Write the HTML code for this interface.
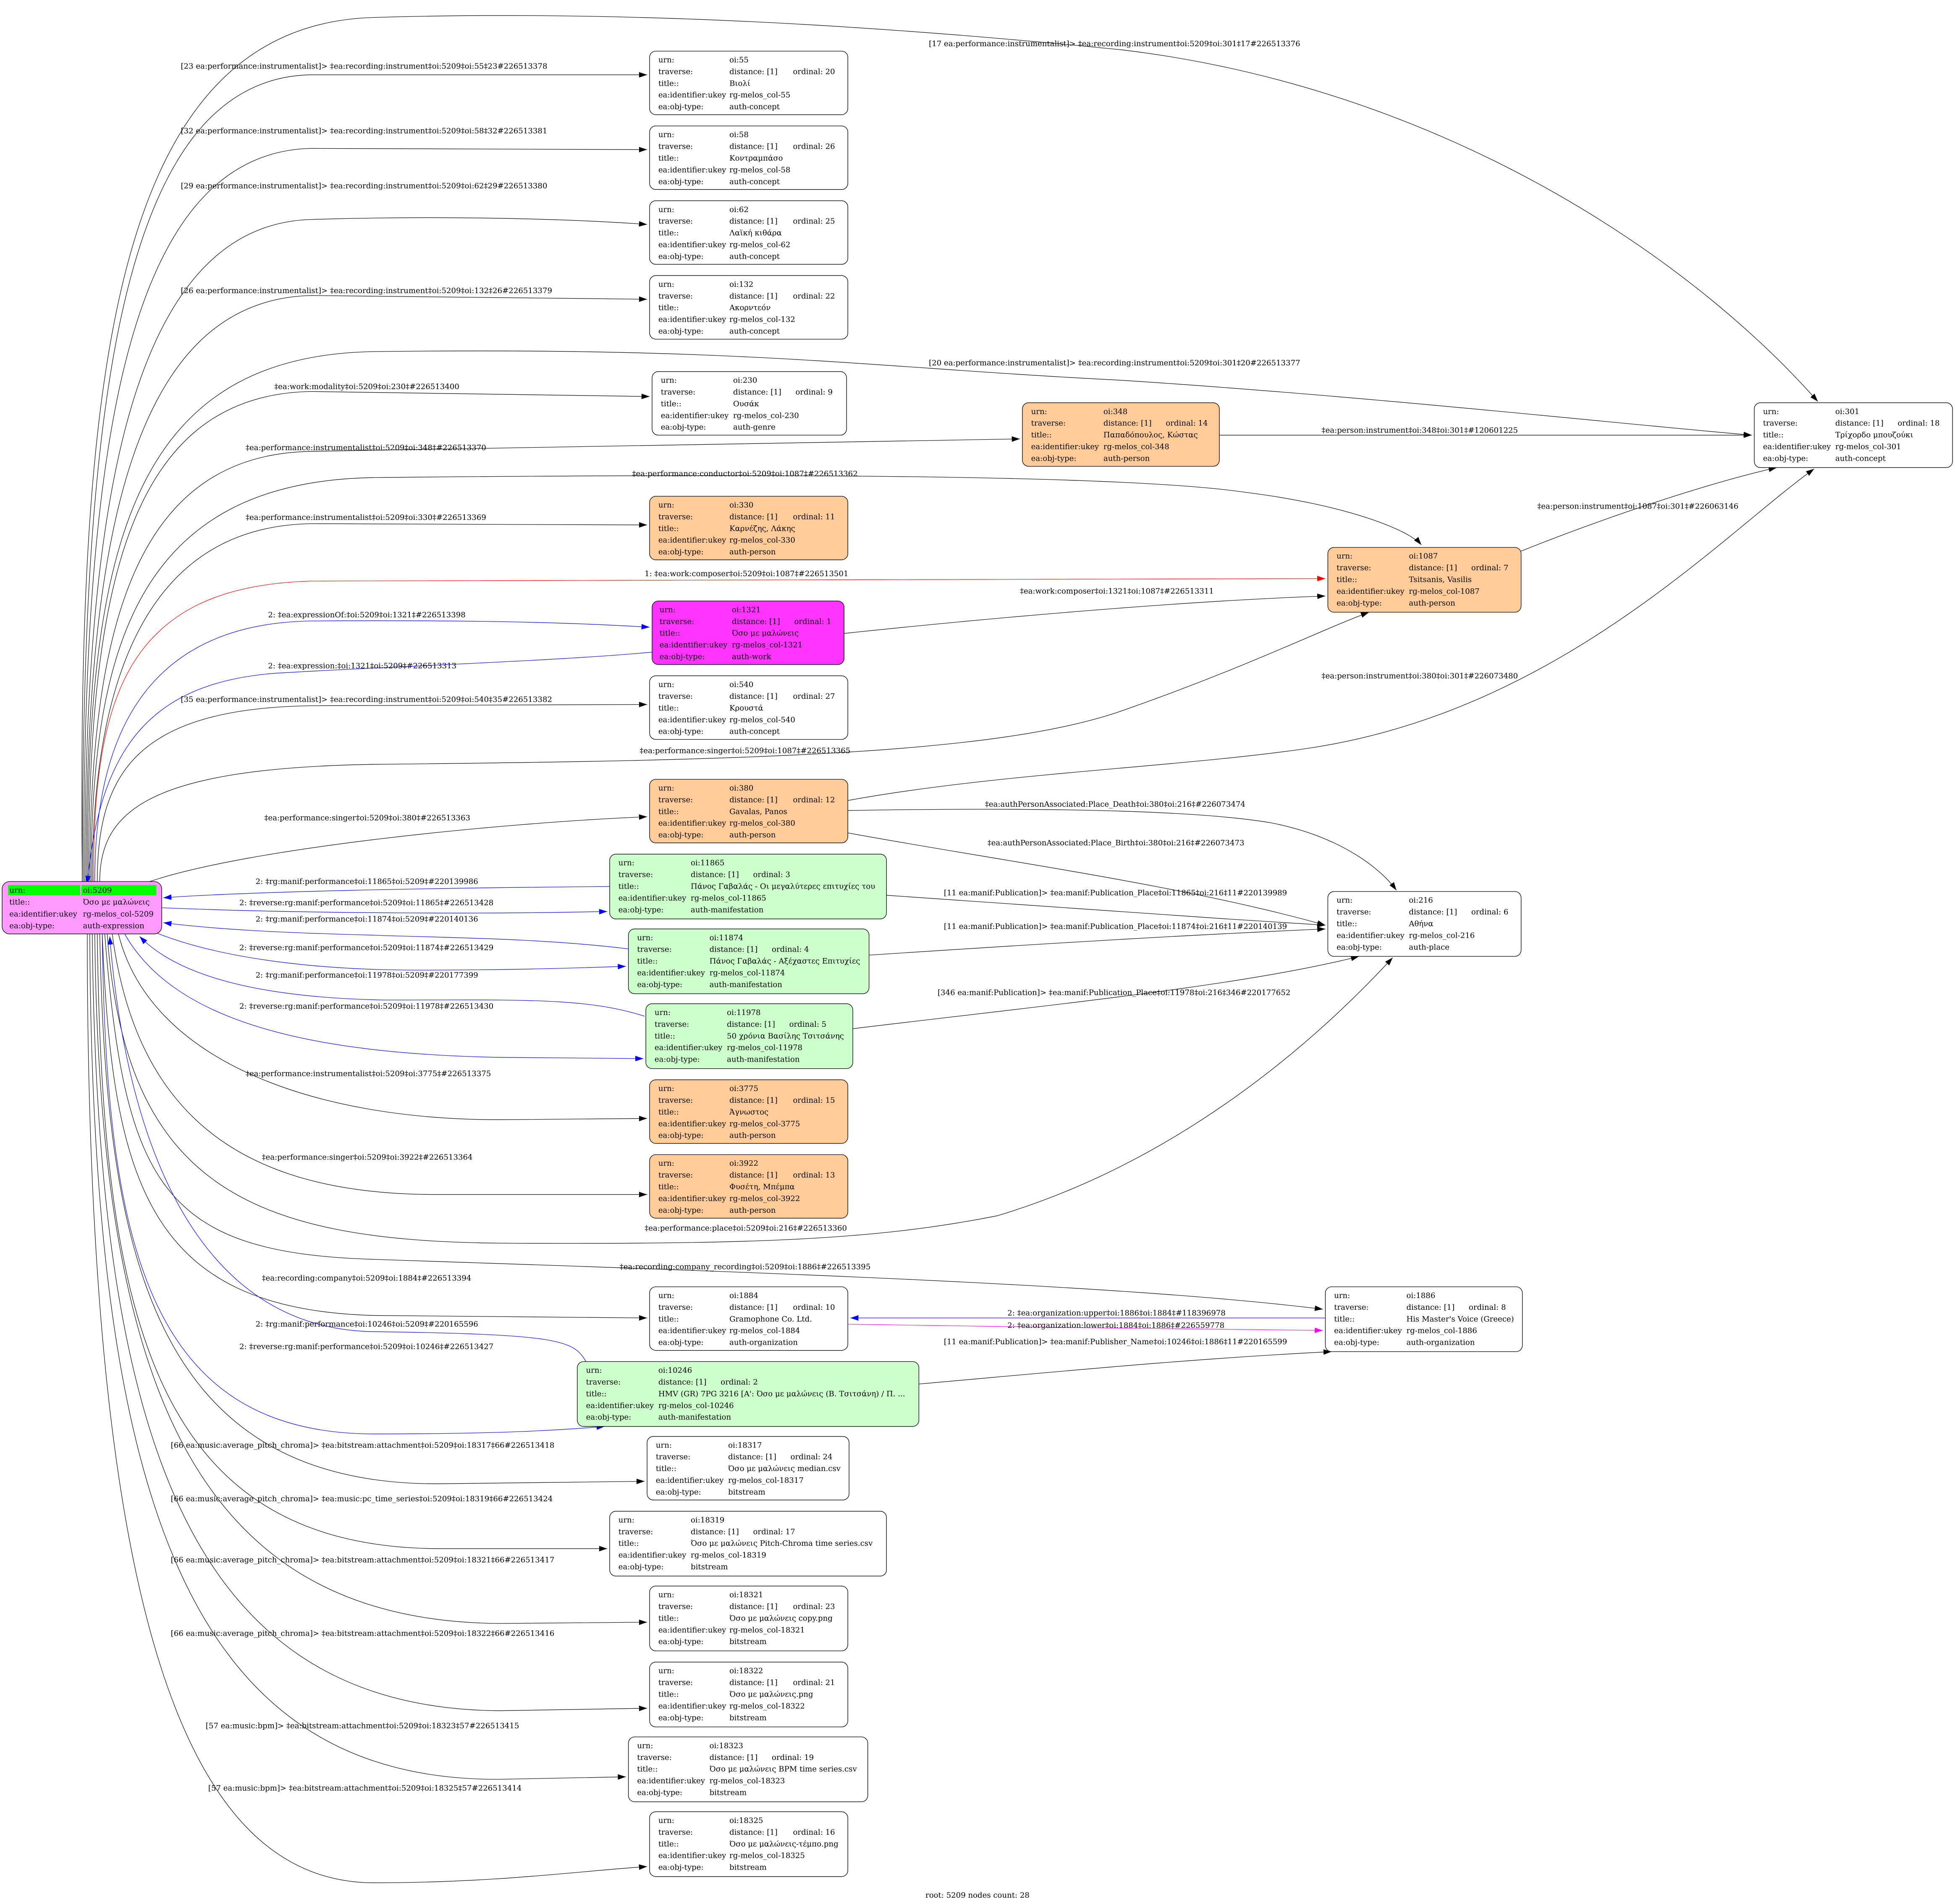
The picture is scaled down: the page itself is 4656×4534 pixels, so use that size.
<!DOCTYPE html>
<html><head><meta charset="utf-8"><style>
html,body{margin:0;padding:0;background:#fff}
svg{display:block}
text{font-family:"DejaVu Serif","Liberation Serif",serif;font-size:6.1px;fill:#000}
.e{fill:none;stroke:#000;stroke-width:0.4}
.b{stroke:#0000ff}
.r{stroke:#ff0000}
.m{stroke:#ff00ff}
.n{stroke:#000;stroke-width:0.45}
</style></head><body>
<svg width="4656" height="4534" viewBox="0 0 1568 1527" preserveAspectRatio="none" xmlns="http://www.w3.org/2000/svg">
<defs>
<marker id="ak" markerUnits="userSpaceOnUse" markerWidth="8" markerHeight="6" refX="6.5" refY="2.2" orient="auto"><path d="M0,0 L6.5,2.2 L0,4.4 z" fill="#000"/></marker>
<marker id="ab" markerUnits="userSpaceOnUse" markerWidth="8" markerHeight="6" refX="6.5" refY="2.2" orient="auto"><path d="M0,0 L6.5,2.2 L0,4.4 z" fill="#0000ff"/></marker>
<marker id="ar" markerUnits="userSpaceOnUse" markerWidth="8" markerHeight="6" refX="6.5" refY="2.2" orient="auto"><path d="M0,0 L6.5,2.2 L0,4.4 z" fill="#ff0000"/></marker>
<marker id="am" markerUnits="userSpaceOnUse" markerWidth="8" markerHeight="6" refX="6.5" refY="2.2" orient="auto"><path d="M0,0 L6.5,2.2 L0,4.4 z" fill="#ff00ff"/></marker>
</defs>
<rect width="1568" height="1527" fill="#fff"/>

<g marker-end="url(#ak)">
<path class="e" d="M66,707 C62,300 90,20 300,14 C500,8 700,20 900,40 C1150,70 1350,200 1458,322"/>
<path class="e" d="M66,707 C66,350 90,62 250,60 L519,60"/>
<path class="e" d="M67,707 C67,380 95,122 250,119 L519,120"/>
<path class="e" d="M68,707 C68,420 100,180 250,176 C350,173 450,175 519,180"/>
<path class="e" d="M69,707 C69,450 100,240 250,237 L519,240"/>
<path class="e" d="M70,707 C70,450 100,285 300,282 C600,278 700,295 900,305 C1100,318 1300,340 1405,349"/>
<path class="e" d="M71,707 C71,480 100,316 250,314 L521,318"/>
<path class="e" d="M72,707 C72,500 110,364 250,362 C500,358 700,354 818,352"/>
<path class="e" d="M73,707 C73,520 110,386 300,383 C600,380 900,380 1000,395 C1080,405 1130,425 1140,437"/>
<path class="e" d="M74,707 C74,560 110,422 250,420 L519,421"/>
<path class="e" d="M78,707 C78,620 110,568 250,566 L519,565"/>
<path class="e" d="M80,707 C80,650 120,616 300,613 C600,610 800,605 900,570 C1000,535 1060,505 1098,491"/>
<path class="e" d="M120,707 C200,680 400,660 519,655"/>
<path class="e" d="M95,749 C120,850 250,898 400,898 L519,897"/>
<path class="e" d="M90,749 C110,900 200,958 350,958 L519,958"/>
<path class="e" d="M86,749 C100,950 200,995 400,997 C600,998 700,995 800,975 C950,930 1060,830 1117,768"/>
<path class="e" d="M84,749 C100,950 130,1005 300,1010 C600,1020 900,1030 1061,1050"/>
<path class="e" d="M82,749 C90,950 120,1050 300,1055 L519,1057"/>
<path class="e" d="M80,749 C85,1000 120,1190 350,1190 L517,1188"/>
<path class="e" d="M78,749 C82,1050 120,1240 350,1242 L487,1242"/>
<path class="e" d="M76,749 C80,1100 150,1300 400,1302 L519,1301"/>
<path class="e" d="M74,749 C78,1150 150,1370 400,1372 L519,1370"/>
<path class="e" d="M72,749 C74,1200 150,1428 400,1427 L502,1425"/>
<path class="e" d="M70,749 C70,1300 150,1510 300,1510 C400,1510 470,1500 519,1497"/>
<path class="e" d="M978,349 L1405,349"/>
<path class="e" d="M1220,442 C1300,410 1380,385 1425,375"/>
<path class="e" d="M677,508 C800,495 950,482 1063,478"/>
<path class="e" d="M680,642 C800,620 950,615 1050,600 C1250,570 1380,430 1455,376"/>
<path class="e" d="M680,650 C800,648 950,648 1020,660 C1080,672 1110,700 1120,714"/>
<path class="e" d="M680,668 C800,690 950,710 1063,742"/>
<path class="e" d="M711,718 C850,728 950,735 1063,742"/>
<path class="e" d="M697,766 C850,756 950,750 1063,745"/>
<path class="e" d="M684,825 C850,805 1000,790 1090,767"/>
<path class="e" d="M737,1110 C850,1100 950,1090 1068,1084"/>
</g>
<path class="e r" marker-end="url(#ar)" d="M75,707 C75,560 100,470 250,466 C600,464 900,464 1063,464"/>
<g marker-end="url(#ab)">
<path class="e b" d="M76,707 C76,600 110,500 250,498 C400,497 470,500 521,503"/>
<path class="e b" d="M523,523 C450,530 300,535 220,540 C120,548 80,600 70,709"/>
<path class="e b" d="M489,711 C350,712 200,715 131,720"/>
<path class="e b" d="M129,728 C250,733 400,733 487,731"/>
<path class="e b" d="M504,761 C430,752 350,752 300,750 C220,748 170,745 131,740"/>
<path class="e b" d="M125,748 C180,770 260,778 334,778 C420,778 470,776 502,775"/>
<path class="e b" d="M517,815 C470,800 420,802 308,802 C200,800 140,780 112,751"/>
<path class="e b" d="M100,749 C140,820 250,845 400,848 L516,849"/>
<path class="e b" d="M470,1092 C460,1075 450,1070 300,1068 C150,1066 100,900 88,751"/>
<path class="e b" d="M82,749 C85,1000 120,1150 300,1150 C400,1150 450,1147 485,1144"/>
<path class="e b" d="M1063,1057 L682,1057"/>
</g>
<path class="e m" marker-end="url(#am)" d="M680,1062 C800,1064 950,1066 1061,1067"/>

<text x="745" y="37">[17 ea:performance:instrumentalist]&gt; ‡ea:recording:instrument‡oi:5209‡oi:301‡17#226513376</text>
<text x="145" y="55">[23 ea:performance:instrumentalist]&gt; ‡ea:recording:instrument‡oi:5209‡oi:55‡23#226513378</text>
<text x="145" y="107">[32 ea:performance:instrumentalist]&gt; ‡ea:recording:instrument‡oi:5209‡oi:58‡32#226513381</text>
<text x="145" y="151">[29 ea:performance:instrumentalist]&gt; ‡ea:recording:instrument‡oi:5209‡oi:62‡29#226513380</text>
<text x="145" y="235">[26 ea:performance:instrumentalist]&gt; ‡ea:recording:instrument‡oi:5209‡oi:132‡26#226513379</text>
<text x="745" y="293">[20 ea:performance:instrumentalist]&gt; ‡ea:recording:instrument‡oi:5209‡oi:301‡20#226513377</text>
<text x="220" y="312">‡ea:work:modality‡oi:5209‡oi:230‡#226513400</text>
<text x="197" y="361">‡ea:performance:instrumentalist‡oi:5209‡oi:348‡#226513370</text>
<text x="1060" y="347">‡ea:person:instrument‡oi:348‡oi:301‡#120601225</text>
<text x="507" y="382">‡ea:performance:conductor‡oi:5209‡oi:1087‡#226513362</text>
<text x="1233" y="408">‡ea:person:instrument‡oi:1087‡oi:301‡#226063146</text>
<text x="197" y="417">‡ea:performance:instrumentalist‡oi:5209‡oi:330‡#226513369</text>
<text x="517" y="462">1: ‡ea:work:composer‡oi:5209‡oi:1087‡#226513501</text>
<text x="818" y="476">‡ea:work:composer‡oi:1321‡oi:1087‡#226513311</text>
<text x="215" y="495">2: ‡ea:expressionOf:‡oi:5209‡oi:1321‡#226513398</text>
<text x="215" y="536">2: ‡ea:expression:‡oi:1321‡oi:5209‡#226513313</text>
<text x="1060" y="544">‡ea:person:instrument‡oi:380‡oi:301‡#226073480</text>
<text x="145" y="563">[35 ea:performance:instrumentalist]&gt; ‡ea:recording:instrument‡oi:5209‡oi:540‡35#226513382</text>
<text x="513" y="604">‡ea:performance:singer‡oi:5209‡oi:1087‡#226513365</text>
<text x="790" y="647">‡ea:authPersonAssociated:Place_Death‡oi:380‡oi:216‡#226073474</text>
<text x="212" y="658">‡ea:performance:singer‡oi:5209‡oi:380‡#226513363</text>
<text x="792" y="678">‡ea:authPersonAssociated:Place_Birth‡oi:380‡oi:216‡#226073473</text>
<text x="205" y="709">2: ‡rg:manif:performance‡oi:11865‡oi:5209‡#220139986</text>
<text x="192" y="726">2: ‡reverse:rg:manif:performance‡oi:5209‡oi:11865‡#226513428</text>
<text x="757" y="718">[11 ea:manif:Publication]&gt; ‡ea:manif:Publication_Place‡oi:11865‡oi:216‡11#220139989</text>
<text x="205" y="739">2: ‡rg:manif:performance‡oi:11874‡oi:5209‡#220140136</text>
<text x="757" y="745">[11 ea:manif:Publication]&gt; ‡ea:manif:Publication_Place‡oi:11874‡oi:216‡11#220140139</text>
<text x="192" y="762">2: ‡reverse:rg:manif:performance‡oi:5209‡oi:11874‡#226513429</text>
<text x="205" y="784">2: ‡rg:manif:performance‡oi:11978‡oi:5209‡#220177399</text>
<text x="752" y="798">[346 ea:manif:Publication]&gt; ‡ea:manif:Publication_Place‡oi:11978‡oi:216‡346#220177652</text>
<text x="192" y="809">2: ‡reverse:rg:manif:performance‡oi:5209‡oi:11978‡#226513430</text>
<text x="197" y="863">‡ea:performance:instrumentalist‡oi:5209‡oi:3775‡#226513375</text>
<text x="210" y="930">‡ea:performance:singer‡oi:5209‡oi:3922‡#226513364</text>
<text x="517" y="987">‡ea:performance:place‡oi:5209‡oi:216‡#226513360</text>
<text x="497" y="1018">‡ea:recording:company_recording‡oi:5209‡oi:1886‡#226513395</text>
<text x="210" y="1027">‡ea:recording:company‡oi:5209‡oi:1884‡#226513394</text>
<text x="808" y="1055">2: ‡ea:organization:upper‡oi:1886‡oi:1884‡#118396978</text>
<text x="808" y="1065">2: ‡ea:organization:lower‡oi:1884‡oi:1886‡#226559778</text>
<text x="205" y="1064">2: ‡rg:manif:performance‡oi:10246‡oi:5209‡#220165596</text>
<text x="757" y="1078">[11 ea:manif:Publication]&gt; ‡ea:manif:Publisher_Name‡oi:10246‡oi:1886‡11#220165599</text>
<text x="192" y="1082">2: ‡reverse:rg:manif:performance‡oi:5209‡oi:10246‡#226513427</text>
<text x="137" y="1161">[66 ea:music:average_pitch_chroma]&gt; ‡ea:bitstream:attachment‡oi:5209‡oi:18317‡66#226513418</text>
<text x="137" y="1204">[66 ea:music:average_pitch_chroma]&gt; ‡ea:music:pc_time_series‡oi:5209‡oi:18319‡66#226513424</text>
<text x="137" y="1253">[66 ea:music:average_pitch_chroma]&gt; ‡ea:bitstream:attachment‡oi:5209‡oi:18321‡66#226513417</text>
<text x="137" y="1312">[66 ea:music:average_pitch_chroma]&gt; ‡ea:bitstream:attachment‡oi:5209‡oi:18322‡66#226513416</text>
<text x="165" y="1386">[57 ea:music:bpm]&gt; ‡ea:bitstream:attachment‡oi:5209‡oi:18323‡57#226513415</text>
<text x="167" y="1436">[57 ea:music:bpm]&gt; ‡ea:bitstream:attachment‡oi:5209‡oi:18325‡57#226513414</text>

<g id="nodes">
<rect class="n" x="521" y="41" width="159" height="51" rx="5" fill="#fff"/>
<text x="528" y="50">urn:</text><text x="585" y="50">oi:55</text>
<text x="528" y="59.4">traverse:</text><text x="585" y="59.4">distance: [1]</text><text x="636" y="59.4">ordinal: 20</text>
<text x="528" y="68.8">title::</text><text x="585" y="68.8">Βιολί</text>
<text x="528" y="78.2">ea:identifier:ukey</text><text x="585" y="78.2">rg-melos_col-55</text>
<text x="528" y="87.6">ea:obj-type:</text><text x="585" y="87.6">auth-concept</text>
<rect class="n" x="521" y="101" width="159" height="51" rx="5" fill="#fff"/>
<text x="528" y="110">urn:</text><text x="585" y="110">oi:58</text>
<text x="528" y="119.4">traverse:</text><text x="585" y="119.4">distance: [1]</text><text x="636" y="119.4">ordinal: 26</text>
<text x="528" y="128.8">title::</text><text x="585" y="128.8">Κοντραμπάσο</text>
<text x="528" y="138.2">ea:identifier:ukey</text><text x="585" y="138.2">rg-melos_col-58</text>
<text x="528" y="147.6">ea:obj-type:</text><text x="585" y="147.6">auth-concept</text>
<rect class="n" x="521" y="161" width="159" height="51" rx="5" fill="#fff"/>
<text x="528" y="170">urn:</text><text x="585" y="170">oi:62</text>
<text x="528" y="179.4">traverse:</text><text x="585" y="179.4">distance: [1]</text><text x="636" y="179.4">ordinal: 25</text>
<text x="528" y="188.8">title::</text><text x="585" y="188.8">Λαϊκή κιθάρα</text>
<text x="528" y="198.2">ea:identifier:ukey</text><text x="585" y="198.2">rg-melos_col-62</text>
<text x="528" y="207.6">ea:obj-type:</text><text x="585" y="207.6">auth-concept</text>
<rect class="n" x="521" y="221" width="159" height="51" rx="5" fill="#fff"/>
<text x="528" y="230">urn:</text><text x="585" y="230">oi:132</text>
<text x="528" y="239.4">traverse:</text><text x="585" y="239.4">distance: [1]</text><text x="636" y="239.4">ordinal: 22</text>
<text x="528" y="248.8">title::</text><text x="585" y="248.8">Ακορντεόν</text>
<text x="528" y="258.2">ea:identifier:ukey</text><text x="585" y="258.2">rg-melos_col-132</text>
<text x="528" y="267.6">ea:obj-type:</text><text x="585" y="267.6">auth-concept</text>
<rect class="n" x="523" y="298" width="156" height="51" rx="5" fill="#fff"/>
<text x="530" y="307">urn:</text><text x="588" y="307">oi:230</text>
<text x="530" y="316.4">traverse:</text><text x="588" y="316.4">distance: [1]</text><text x="638" y="316.4">ordinal: 9</text>
<text x="530" y="325.8">title::</text><text x="588" y="325.8">Ουσάκ</text>
<text x="530" y="335.2">ea:identifier:ukey</text><text x="588" y="335.2">rg-melos_col-230</text>
<text x="530" y="344.6">ea:obj-type:</text><text x="588" y="344.6">auth-genre</text>
<rect class="n" x="820" y="323" width="158" height="51" rx="5" fill="#ffcc99"/>
<text x="827" y="332">urn:</text><text x="885" y="332">oi:348</text>
<text x="827" y="341.4">traverse:</text><text x="885" y="341.4">distance: [1]</text><text x="935" y="341.4">ordinal: 14</text>
<text x="827" y="350.8">title::</text><text x="885" y="350.8">Παπαδόπουλος, Κώστας</text>
<text x="827" y="360.2">ea:identifier:ukey</text><text x="885" y="360.2">rg-melos_col-348</text>
<text x="827" y="369.6">ea:obj-type:</text><text x="885" y="369.6">auth-person</text>
<rect class="n" x="1407" y="323" width="159" height="52" rx="5" fill="#fff"/>
<text x="1414" y="332">urn:</text><text x="1472" y="332">oi:301</text>
<text x="1414" y="341.4">traverse:</text><text x="1472" y="341.4">distance: [1]</text><text x="1522" y="341.4">ordinal: 18</text>
<text x="1414" y="350.8">title::</text><text x="1472" y="350.8">Τρίχορδο μπουζούκι</text>
<text x="1414" y="360.2">ea:identifier:ukey</text><text x="1472" y="360.2">rg-melos_col-301</text>
<text x="1414" y="369.6">ea:obj-type:</text><text x="1472" y="369.6">auth-concept</text>
<rect class="n" x="521" y="398" width="159" height="51" rx="5" fill="#ffcc99"/>
<text x="528" y="407">urn:</text><text x="585" y="407">oi:330</text>
<text x="528" y="416.4">traverse:</text><text x="585" y="416.4">distance: [1]</text><text x="636" y="416.4">ordinal: 11</text>
<text x="528" y="425.8">title::</text><text x="585" y="425.8">Καρνέζης, Λάκης</text>
<text x="528" y="435.2">ea:identifier:ukey</text><text x="585" y="435.2">rg-melos_col-330</text>
<text x="528" y="444.6">ea:obj-type:</text><text x="585" y="444.6">auth-person</text>
<rect class="n" x="1065" y="439" width="155" height="52" rx="5" fill="#ffcc99"/>
<text x="1072" y="448">urn:</text><text x="1130" y="448">oi:1087</text>
<text x="1072" y="457.4">traverse:</text><text x="1130" y="457.4">distance: [1]</text><text x="1180" y="457.4">ordinal: 7</text>
<text x="1072" y="466.8">title::</text><text x="1130" y="466.8">Tsitsanis, Vasilis</text>
<text x="1072" y="476.2">ea:identifier:ukey</text><text x="1130" y="476.2">rg-melos_col-1087</text>
<text x="1072" y="485.6">ea:obj-type:</text><text x="1130" y="485.6">auth-person</text>
<rect class="n" x="523" y="482" width="154" height="51" rx="5" fill="#ff33ff"/>
<text x="529" y="491">urn:</text><text x="587" y="491">oi:1321</text>
<text x="529" y="500.4">traverse:</text><text x="587" y="500.4">distance: [1]</text><text x="637" y="500.4">ordinal: 1</text>
<text x="529" y="509.8">title::</text><text x="587" y="509.8">Όσο με μαλώνεις</text>
<text x="529" y="519.2">ea:identifier:ukey</text><text x="587" y="519.2">rg-melos_col-1321</text>
<text x="529" y="528.6">ea:obj-type:</text><text x="587" y="528.6">auth-work</text>
<rect class="n" x="521" y="542" width="159" height="51" rx="5" fill="#fff"/>
<text x="528" y="551">urn:</text><text x="585" y="551">oi:540</text>
<text x="528" y="560.4">traverse:</text><text x="585" y="560.4">distance: [1]</text><text x="636" y="560.4">ordinal: 27</text>
<text x="528" y="569.8">title::</text><text x="585" y="569.8">Κρουστά</text>
<text x="528" y="579.2">ea:identifier:ukey</text><text x="585" y="579.2">rg-melos_col-540</text>
<text x="528" y="588.6">ea:obj-type:</text><text x="585" y="588.6">auth-concept</text>
<rect class="n" x="521" y="625" width="159" height="51" rx="5" fill="#ffcc99"/>
<text x="528" y="634">urn:</text><text x="585" y="634">oi:380</text>
<text x="528" y="643.4">traverse:</text><text x="585" y="643.4">distance: [1]</text><text x="636" y="643.4">ordinal: 12</text>
<text x="528" y="652.8">title::</text><text x="585" y="652.8">Gavalas, Panos</text>
<text x="528" y="662.2">ea:identifier:ukey</text><text x="585" y="662.2">rg-melos_col-380</text>
<text x="528" y="671.6">ea:obj-type:</text><text x="585" y="671.6">auth-person</text>
<rect class="n" x="489" y="685" width="222" height="52" rx="5" fill="#ccffcc"/>
<text x="496" y="694">urn:</text><text x="554" y="694">oi:11865</text>
<text x="496" y="703.4">traverse:</text><text x="554" y="703.4">distance: [1]</text><text x="604" y="703.4">ordinal: 3</text>
<text x="496" y="712.8">title::</text><text x="554" y="712.8">Πάνος Γαβαλάς - Οι μεγαλύτερες επιτυχίες του</text>
<text x="496" y="722.2">ea:identifier:ukey</text><text x="554" y="722.2">rg-melos_col-11865</text>
<text x="496" y="731.6">ea:obj-type:</text><text x="554" y="731.6">auth-manifestation</text>
<rect class="n" x="1065" y="715" width="155" height="52" rx="5" fill="#fff"/>
<text x="1072" y="724">urn:</text><text x="1130" y="724">oi:216</text>
<text x="1072" y="733.4">traverse:</text><text x="1130" y="733.4">distance: [1]</text><text x="1180" y="733.4">ordinal: 6</text>
<text x="1072" y="742.8">title::</text><text x="1130" y="742.8">Αθήνα</text>
<text x="1072" y="752.2">ea:identifier:ukey</text><text x="1130" y="752.2">rg-melos_col-216</text>
<text x="1072" y="761.6">ea:obj-type:</text><text x="1130" y="761.6">auth-place</text>
<rect class="n" x="504" y="745" width="193" height="52" rx="5" fill="#ccffcc"/>
<text x="511" y="754">urn:</text><text x="569" y="754">oi:11874</text>
<text x="511" y="763.4">traverse:</text><text x="569" y="763.4">distance: [1]</text><text x="619" y="763.4">ordinal: 4</text>
<text x="511" y="772.8">title::</text><text x="569" y="772.8">Πάνος Γαβαλάς - Αξέχαστες Επιτυχίες</text>
<text x="511" y="782.2">ea:identifier:ukey</text><text x="569" y="782.2">rg-melos_col-11874</text>
<text x="511" y="791.6">ea:obj-type:</text><text x="569" y="791.6">auth-manifestation</text>
<rect class="n" x="518" y="805" width="166" height="52" rx="5" fill="#ccffcc"/>
<text x="525" y="814">urn:</text><text x="583" y="814">oi:11978</text>
<text x="525" y="823.4">traverse:</text><text x="583" y="823.4">distance: [1]</text><text x="633" y="823.4">ordinal: 5</text>
<text x="525" y="832.8">title::</text><text x="583" y="832.8">50 χρόνια Βασίλης Τσιτσάνης</text>
<text x="525" y="842.2">ea:identifier:ukey</text><text x="583" y="842.2">rg-melos_col-11978</text>
<text x="525" y="851.6">ea:obj-type:</text><text x="583" y="851.6">auth-manifestation</text>
<rect class="n" x="521" y="866" width="159" height="51" rx="5" fill="#ffcc99"/>
<text x="528" y="875">urn:</text><text x="585" y="875">oi:3775</text>
<text x="528" y="884.4">traverse:</text><text x="585" y="884.4">distance: [1]</text><text x="636" y="884.4">ordinal: 15</text>
<text x="528" y="893.8">title::</text><text x="585" y="893.8">Άγνωστος</text>
<text x="528" y="903.2">ea:identifier:ukey</text><text x="585" y="903.2">rg-melos_col-3775</text>
<text x="528" y="912.6">ea:obj-type:</text><text x="585" y="912.6">auth-person</text>
<rect class="n" x="521" y="926" width="159" height="51" rx="5" fill="#ffcc99"/>
<text x="528" y="935">urn:</text><text x="585" y="935">oi:3922</text>
<text x="528" y="944.4">traverse:</text><text x="585" y="944.4">distance: [1]</text><text x="636" y="944.4">ordinal: 13</text>
<text x="528" y="953.8">title::</text><text x="585" y="953.8">Φυσέτη, Μπέμπα</text>
<text x="528" y="963.2">ea:identifier:ukey</text><text x="585" y="963.2">rg-melos_col-3922</text>
<text x="528" y="972.6">ea:obj-type:</text><text x="585" y="972.6">auth-person</text>
<rect class="n" x="521" y="1032" width="159" height="51" rx="5" fill="#fff"/>
<text x="528" y="1041">urn:</text><text x="585" y="1041">oi:1884</text>
<text x="528" y="1050.4">traverse:</text><text x="585" y="1050.4">distance: [1]</text><text x="636" y="1050.4">ordinal: 10</text>
<text x="528" y="1059.8">title::</text><text x="585" y="1059.8">Gramophone Co. Ltd.</text>
<text x="528" y="1069.2">ea:identifier:ukey</text><text x="585" y="1069.2">rg-melos_col-1884</text>
<text x="528" y="1078.6">ea:obj-type:</text><text x="585" y="1078.6">auth-organization</text>
<rect class="n" x="1063" y="1032" width="158" height="52" rx="5" fill="#fff"/>
<text x="1070" y="1041">urn:</text><text x="1128" y="1041">oi:1886</text>
<text x="1070" y="1050.4">traverse:</text><text x="1128" y="1050.4">distance: [1]</text><text x="1178" y="1050.4">ordinal: 8</text>
<text x="1070" y="1059.8">title::</text><text x="1128" y="1059.8">His Master's Voice (Greece)</text>
<text x="1070" y="1069.2">ea:identifier:ukey</text><text x="1128" y="1069.2">rg-melos_col-1886</text>
<text x="1070" y="1078.6">ea:obj-type:</text><text x="1128" y="1078.6">auth-organization</text>
<rect class="n" x="463" y="1092" width="274" height="52" rx="5" fill="#ccffcc"/>
<text x="470" y="1101">urn:</text><text x="528" y="1101">oi:10246</text>
<text x="470" y="1110.4">traverse:</text><text x="528" y="1110.4">distance: [1]</text><text x="578" y="1110.4">ordinal: 2</text>
<text x="470" y="1119.8">title::</text><text x="528" y="1119.8">HMV (GR) 7PG 3216 [A': Όσο με μαλώνεις (Β. Τσιτσάνη) / Π. ...</text>
<text x="470" y="1129.2">ea:identifier:ukey</text><text x="528" y="1129.2">rg-melos_col-10246</text>
<text x="470" y="1138.6">ea:obj-type:</text><text x="528" y="1138.6">auth-manifestation</text>
<rect class="n" x="519" y="1152" width="162" height="51" rx="5" fill="#fff"/>
<text x="526" y="1161">urn:</text><text x="584" y="1161">oi:18317</text>
<text x="526" y="1170.4">traverse:</text><text x="584" y="1170.4">distance: [1]</text><text x="634" y="1170.4">ordinal: 24</text>
<text x="526" y="1179.8">title::</text><text x="584" y="1179.8">Όσο με μαλώνεις median.csv</text>
<text x="526" y="1189.2">ea:identifier:ukey</text><text x="584" y="1189.2">rg-melos_col-18317</text>
<text x="526" y="1198.6">ea:obj-type:</text><text x="584" y="1198.6">bitstream</text>
<rect class="n" x="489" y="1212" width="222" height="52" rx="5" fill="#fff"/>
<text x="496" y="1221">urn:</text><text x="554" y="1221">oi:18319</text>
<text x="496" y="1230.4">traverse:</text><text x="554" y="1230.4">distance: [1]</text><text x="604" y="1230.4">ordinal: 17</text>
<text x="496" y="1239.8">title::</text><text x="554" y="1239.8">Όσο με μαλώνεις Pitch-Chroma time series.csv</text>
<text x="496" y="1249.2">ea:identifier:ukey</text><text x="554" y="1249.2">rg-melos_col-18319</text>
<text x="496" y="1258.6">ea:obj-type:</text><text x="554" y="1258.6">bitstream</text>
<rect class="n" x="521" y="1272" width="159" height="52" rx="5" fill="#fff"/>
<text x="528" y="1281">urn:</text><text x="585" y="1281">oi:18321</text>
<text x="528" y="1290.4">traverse:</text><text x="585" y="1290.4">distance: [1]</text><text x="636" y="1290.4">ordinal: 23</text>
<text x="528" y="1299.8">title::</text><text x="585" y="1299.8">Όσο με μαλώνεις copy.png</text>
<text x="528" y="1309.2">ea:identifier:ukey</text><text x="585" y="1309.2">rg-melos_col-18321</text>
<text x="528" y="1318.6">ea:obj-type:</text><text x="585" y="1318.6">bitstream</text>
<rect class="n" x="521" y="1333" width="159" height="52" rx="5" fill="#fff"/>
<text x="528" y="1342">urn:</text><text x="585" y="1342">oi:18322</text>
<text x="528" y="1351.4">traverse:</text><text x="585" y="1351.4">distance: [1]</text><text x="636" y="1351.4">ordinal: 21</text>
<text x="528" y="1360.8">title::</text><text x="585" y="1360.8">Όσο με μαλώνεις.png</text>
<text x="528" y="1370.2">ea:identifier:ukey</text><text x="585" y="1370.2">rg-melos_col-18322</text>
<text x="528" y="1379.6">ea:obj-type:</text><text x="585" y="1379.6">bitstream</text>
<rect class="n" x="504" y="1393" width="192" height="52" rx="5" fill="#fff"/>
<text x="511" y="1402">urn:</text><text x="569" y="1402">oi:18323</text>
<text x="511" y="1411.4">traverse:</text><text x="569" y="1411.4">distance: [1]</text><text x="619" y="1411.4">ordinal: 19</text>
<text x="511" y="1420.8">title::</text><text x="569" y="1420.8">Όσο με μαλώνεις BPM time series.csv</text>
<text x="511" y="1430.2">ea:identifier:ukey</text><text x="569" y="1430.2">rg-melos_col-18323</text>
<text x="511" y="1439.6">ea:obj-type:</text><text x="569" y="1439.6">bitstream</text>
<rect class="n" x="521" y="1453" width="159" height="52" rx="5" fill="#fff"/>
<text x="528" y="1462">urn:</text><text x="585" y="1462">oi:18325</text>
<text x="528" y="1471.4">traverse:</text><text x="585" y="1471.4">distance: [1]</text><text x="636" y="1471.4">ordinal: 16</text>
<text x="528" y="1480.8">title::</text><text x="585" y="1480.8">Όσο με μαλώνεις-τέμπο.png</text>
<text x="528" y="1490.2">ea:identifier:ukey</text><text x="585" y="1490.2">rg-melos_col-18325</text>
<text x="528" y="1499.6">ea:obj-type:</text><text x="585" y="1499.6">bitstream</text>
<rect class="n" x="1.7" y="707" width="128" height="42" rx="6" fill="#ff99ff"/>
<rect x="6.5" y="709.8" width="57.8" height="8.3" fill="#00ff00"/>
<rect x="65.3" y="709.8" width="60.1" height="8.3" fill="#00ff00"/>
<text x="7.5" y="716">urn:</text><text x="66.5" y="716">oi:5209</text>
<text x="7.5" y="725.5">title::</text><text x="66.5" y="725.5">Όσο με μαλώνεις</text>
<text x="7.5" y="735">ea:identifier:ukey</text><text x="66.5" y="735">rg-melos_col-5209</text>
<text x="7.5" y="744.5">ea:obj-type:</text><text x="66.5" y="744.5">auth-expression</text>
</g>

<text x="784" y="1522" text-anchor="middle">root: 5209 nodes count: 28</text>
</svg>
</body></html>
